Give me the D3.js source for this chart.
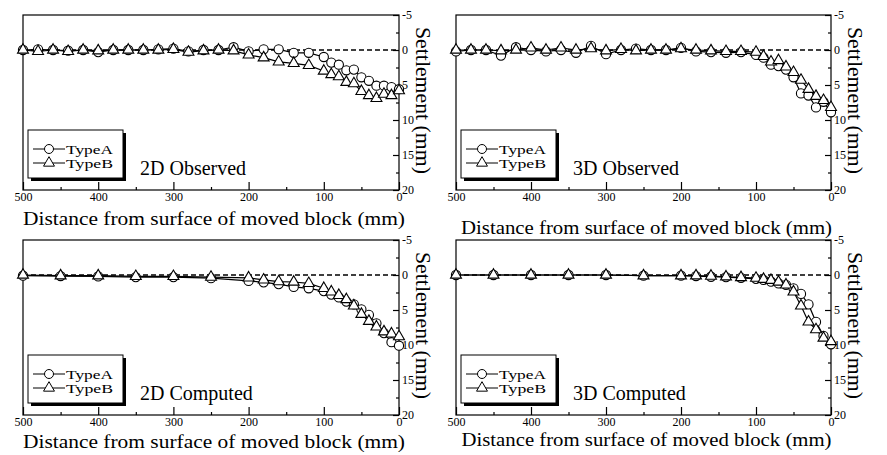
<!DOCTYPE html>
<html>
<head>
<meta charset="utf-8">
<script src="https://cdn.jsdelivr.net/npm/d3@7"></script>
<style>
  body { margin: 0; background: #fff; }
  svg text { font-family: 'Liberation Serif', 'Times New Roman', serif; fill: #000; }
  .axis path { stroke: none; }
  .axis line { stroke: #000; stroke-width: 1.2; }
  .axis text { font-size: 12px; }
</style>
</head>
<body>
<svg id="chart" width="887" height="455"></svg>
<script>
// distances (mm) at which observed settlements were recorded
const obsDist = [500, 480, 460, 440, 420, 400, 380, 360, 340, 320, 300, 280, 260, 240, 220,
  200, 180, 160, 140, 120, 100, 90, 80, 70, 60, 50, 40, 30, 20, 10, 0]
const obs2dTypeA = [0, -0.1, 0, 0.1, 0, 0.3, 0, 0, 0, -0.1, -0.2, 0.2, 0, 0, -0.4,
  0.2, -0.1, -0.1, 0.4, 0.4, 1.0, 1.8, 2.1, 2.9, 2.8, 3.9, 4.4, 5.1, 5.1, 5.3, 5.6]
const obs2dTypeB = [0, 0.2, 0, 0.2, 0, 0.1, 0, 0, 0, 0, -0.1, 0.3, 0.1, 0, 0.1,
  0.7, 1.1, 1.7, 1.9, 2.2, 3.0, 3.5, 3.8, 4.6, 4.8, 5.9, 6.5, 6.9, 6.3, 6.5, 5.8]
const obs3dTypeA = [0.2, 0, 0, 0.8, -0.4, 0, 0.2, 0, 0.4, -0.6, 0.6, 0, -0.2, 0, 0,
  -0.3, 0.2, 0.3, 0.4, 0.3, 0.7, 1.1, 2.1, 2.3, 2.8, 3.9, 6.2, 6.5, 8.2, 7.4, 8.9]
const obs3dTypeB = [0, 0, 0, 0.1, 0, -0.3, 0, -0.3, 0, -0.2, 0.1, -0.1, 0.1, 0, 0,
  -0.2, 0, 0.1, 0.2, 0.2, 0.3, 0.9, 1.7, 1.5, 2.4, 3.2, 4.3, 5.6, 6.6, 7.2, 8.2]

// distances (mm) of computed results
const compDist = [500, 450, 400, 350, 300, 250, 200, 180, 160, 140, 120,
  100, 90, 80, 70, 60, 50, 40, 30, 20, 10, 0]
const comp2dTypeA = [0.1, 0.15, 0.2, 0.3, 0.3, 0.45, 0.85, 1.05, 1.3, 1.7, 1.9,
  2.3, 2.8, 3.2, 3.8, 4.2, 4.9, 5.7, 6.9, 8.3, 9.6, 10.1]
const comp2dTypeB = [0, 0.1, 0.1, 0.2, 0.2, 0.3, 0.4, 0.7, 0.95, 1.0, 1.2,
  1.9, 2.4, 2.9, 3.5, 4.4, 5.6, 6.6, 7.4, 8.1, 8.4, 8.8]
const comp3dTypeA = [0, 0, 0, 0, 0, 0.1, 0.1, 0.15, 0.25, 0.3, 0.4,
  0.55, 0.7, 0.95, 1.2, 1.4, 1.9, 2.7, 4.2, 6.7, 8.7, 9.9]
const comp3dTypeB = [0, 0, 0, 0, 0, 0.1, 0.1, 0.1, 0.15, 0.25, 0.35,
  0.45, 0.6, 0.75, 1.0, 1.4, 2.4, 4.4, 6.7, 7.8, 9.0, 9.5]

const xTicks = [500, 400, 300, 200, 100, 0]
const xMinorTicks = [450, 350, 250, 150, 50]
const yTicks = [-5, 0, 5, 10, 15, 20]
const yMinorTicks = [-2.5, 2.5, 7.5, 12.5, 17.5]
const seriesNames = ['TypeA', 'TypeB']
const xTitle = 'Distance from surface of moved block (mm)'
const yTitle = 'Settlement (mm)'

const panels = [
  { title: '2D Observed', dist: obsDist, a: obs2dTypeA, b: obs2dTypeB, box: [23, 399, 15, 190], titleY: 225, titleW: 382 },
  { title: '3D Observed', dist: obsDist, a: obs3dTypeA, b: obs3dTypeB, box: [456, 831, 15, 190], titleY: 234, titleW: 371 },
  { title: '2D Computed', dist: compDist, a: comp2dTypeA, b: comp2dTypeB, box: [23, 399, 240, 415], titleY: 448, titleW: 382 },
  { title: '3D Computed', dist: compDist, a: comp3dTypeA, b: comp3dTypeB, box: [456, 831, 240, 415], titleY: 446, titleW: 370 }
]

const svg = d3.select('#chart')

panels.forEach(p => drawPanel(p))

function drawPanel(p) {
  const [left, right, top, bottom] = p.box
  const x = d3.scaleLinear().domain([500, 0]).range([left, right])
  const y = d3.scaleLinear().domain([-5, 20]).range([top, bottom])
  const g = svg.append('g')

  // frame
  g.append('rect')
    .attr('x', left).attr('y', top)
    .attr('width', right - left).attr('height', bottom - top)
    .attr('fill', 'none').attr('stroke', '#000').attr('stroke-width', 1.2)

  // x axis, ticks pointing inward
  g.append('g').attr('class', 'axis')
    .attr('transform', `translate(0,${bottom})`)
    .call(d3.axisBottom(x).tickValues(xTicks).tickSizeInner(-8).tickSizeOuter(0).tickPadding(2))
  g.append('g').attr('class', 'axis')
    .attr('transform', `translate(0,${bottom})`)
    .call(d3.axisBottom(x).tickValues(xMinorTicks).tickSizeInner(-3).tickSizeOuter(0).tickFormat(''))

  // y axis on the right
  g.append('g').attr('class', 'axis')
    .attr('transform', `translate(${right},0)`)
    .call(d3.axisRight(y).tickValues(yTicks).tickSizeInner(-6).tickSizeOuter(0).tickPadding(3)
      .tickFormat(d => String(d)))
  g.append('g').attr('class', 'axis')
    .attr('transform', `translate(${right},0)`)
    .call(d3.axisRight(y).tickValues(yMinorTicks).tickSizeInner(-3).tickSizeOuter(0).tickFormat(''))

  // zero reference line
  g.append('line')
    .attr('x1', left).attr('x2', right)
    .attr('y1', y(0)).attr('y2', y(0))
    .attr('stroke', '#000').attr('stroke-width', 1.5)
    .attr('stroke-dasharray', '5,3')

  const line = d3.line().x(d => x(d[0])).y(d => y(d[1]))
  const ptsA = p.dist.map((d, i) => [d, p.a[i]])
  const ptsB = p.dist.map((d, i) => [d, p.b[i]])

  ;[ptsA, ptsB].forEach(pts => {
    g.append('path').datum(pts)
      .attr('d', line)
      .attr('fill', 'none').attr('stroke', '#000').attr('stroke-width', 1.2)
  })

  g.selectAll('.ma').data(ptsA).enter()
    .append('circle')
    .attr('cx', d => x(d[0])).attr('cy', d => y(d[1]))
    .attr('r', 4.6)
    .attr('fill', '#fff').attr('stroke', '#000').attr('stroke-width', 1.1)

  const tri = d3.symbol().type(d3.symbolTriangle).size(52)
  g.selectAll('.mb').data(ptsB).enter()
    .append('path')
    .attr('d', tri)
    .attr('transform', d => `translate(${x(d[0])},${y(d[1])})`)
    .attr('fill', '#fff').attr('stroke', '#000').attr('stroke-width', 1.1)

  // legend box with drop shadow
  const lx = left + 5, ly = bottom - 60, lw = 95, lh = 48
  g.append('rect')
    .attr('x', lx + 3).attr('y', ly + 3).attr('width', lw).attr('height', lh)
    .attr('fill', '#000')
  g.append('rect')
    .attr('x', lx).attr('y', ly).attr('width', lw).attr('height', lh)
    .attr('fill', '#fff').attr('stroke', '#000').attr('stroke-width', 1)

  seriesNames.forEach((name, i) => {
    const ry = ly + 19 + i * 14
    g.append('line')
      .attr('x1', lx + 5).attr('x2', lx + 37)
      .attr('y1', ry).attr('y2', ry)
      .attr('stroke', '#000').attr('stroke-width', 1)
    if (i === 0) {
      g.append('circle').attr('cx', lx + 21).attr('cy', ry).attr('r', 4.5)
        .attr('fill', '#fff').attr('stroke', '#000')
    } else {
      g.append('path').attr('d', tri)
        .attr('transform', `translate(${lx + 21},${ry})`)
        .attr('fill', '#fff').attr('stroke', '#000')
    }
    g.append('text')
      .attr('x', lx + 38).attr('y', ry + 4.5)
      .attr('font-size', 12.5)
      .attr('textLength', 47)
      .attr('lengthAdjust', 'spacingAndGlyphs')
      .text(name)
  })

  g.append('text')
    .attr('x', left + 117).attr('y', bottom - 15)
    .attr('font-size', 20)
    .text(p.title)

  // axis titles
  g.append('text')
    .attr('x', (left + right) / 2 + 3).attr('y', p.titleY)
    .attr('text-anchor', 'middle')
    .attr('font-size', 18)
    .attr('textLength', p.titleW)
    .attr('lengthAdjust', 'spacingAndGlyphs')
    .text(xTitle)

  g.append('text')
    .attr('transform', `translate(${right + 17},${(top + bottom) / 2 - 2}) rotate(90)`)
    .attr('text-anchor', 'middle')
    .attr('font-size', 20)
    .attr('textLength', 147)
    .attr('lengthAdjust', 'spacingAndGlyphs')
    .text(yTitle)
}
</script>
</body>
</html>
